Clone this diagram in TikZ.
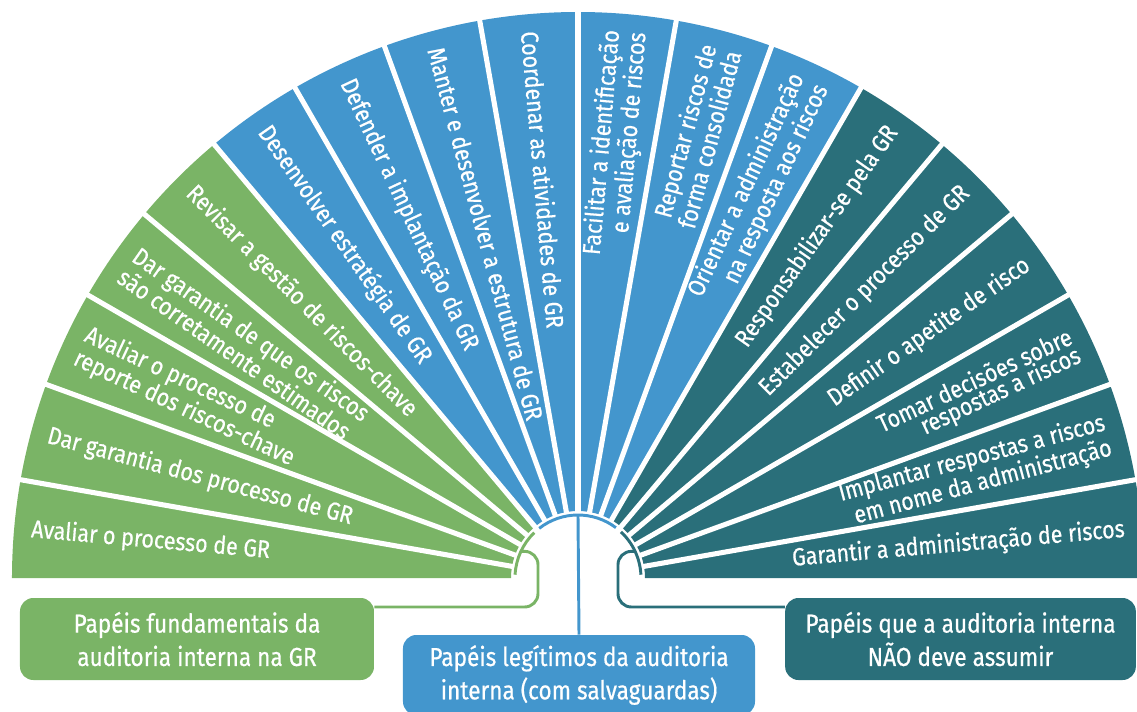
\documentclass[tikz,border=0pt]{standalone}
\usepackage{fontspec}
\setmainfont{Fira Sans}[FakeStretch=0.87, FakeBold=0.6]
\definecolor{cgreen}{RGB}{122,180,102}
\definecolor{cblue}{RGB}{67,150,205}
\definecolor{cteal}{RGB}{42,111,122}
\begin{document}
\begin{tikzpicture}[x=0.75pt,y=0.75pt,
  wtext/.style={text=white, font=\fontsize{18.5}{15}\selectfont, inner sep=0pt},
  lbox/.style={rounded corners=10pt, text=white, font=\fontsize{19.5}{25}\selectfont, align=center, inner sep=0pt},
  conn/.style={line width=2.2pt},
  gapline/.style={white, line width=3.8pt}]
\useasboundingbox (-578,-133) rectangle (559,578);
% wedges
\foreach \a in {0,10,...,50}
  \fill[cteal] (\a:67) -- (\a:566) arc[start angle=\a, delta angle=10, radius=566] -- ({\a+10}:67) arc[start angle=\a+10, delta angle=-10, radius=67] -- cycle;
\foreach \a in {60,70,...,120}
  \fill[cblue] (\a:67) -- (\a:566) arc[start angle=\a, delta angle=10, radius=566] -- ({\a+10}:67) arc[start angle=\a+10, delta angle=-10, radius=67] -- cycle;
\foreach \a in {130,140,...,170}
  \fill[cgreen] (\a:67) -- (\a:566) arc[start angle=\a, delta angle=10, radius=566] -- ({\a+10}:67) arc[start angle=\a+10, delta angle=-10, radius=67] -- cycle;
\foreach \a in {10,20,...,170}
  \draw[gapline] (\a:55) -- (\a:580);
% wedge texts, left side
\node[wtext, anchor=west, align=left, rotate=-5] (t1) at (175:549) {Avaliar o processo de GR};
\node[wtext, anchor=west, align=left, rotate=-15] (t2) at (165:549) {Dar garantia dos processo de GR};
\node[wtext, anchor=west, align=left, rotate=-25] (t3) at (155:549) {Avaliar o processo de\\reporte dos riscos-chave};
\node[wtext, anchor=west, align=left, rotate=-35] (t4) at (145:549) {Dar garantia de que os riscos\\são corretamente estimados};
\node[wtext, anchor=west, align=left, rotate=-45] (t5) at (135:549) {Revisar a gestão de riscos-chave};
\node[wtext, anchor=west, align=left, rotate=-55] (t6) at (125:549) {Desenvolver estratégia de GR};
\node[wtext, anchor=west, align=left, rotate=-65] (t7) at (115:549) {Defender a implantação da GR};
\node[wtext, anchor=west, align=left, rotate=-75] (t8) at (105:549) {Manter e desenvolver a estrutura de GR};
\node[wtext, anchor=west, align=left, rotate=-85] (t9) at (95:549) {Coordenar as atividades de GR};
% right side
\node[wtext, anchor=east, align=right, rotate=85] (t10) at (85:549) {Facilitar a identificação\\e avaliação de riscos};
\node[wtext, anchor=east, align=right, rotate=75] (t11) at (75:549) {Reportar riscos de\\forma consolidada};
\node[wtext, anchor=east, align=right, rotate=65] (t12) at (65:549) {Orientar a administração\\na resposta aos riscos};
\node[wtext, anchor=east, align=right, rotate=55] (t13) at (55:549) {Responsabilizar-se pela GR};
\node[wtext, anchor=east, align=right, rotate=45] (t14) at (45:549) {Estabelecer o processo de GR};
\node[wtext, anchor=east, align=right, rotate=35] (t15) at (35:549) {Definir o apetite de risco};
\node[wtext, anchor=east, align=right, rotate=25] (t16) at (25:549) {Tomar decisões sobre\\respostas a riscos};
\node[wtext, anchor=east, align=right, rotate=15] (t17) at (15:549) {Implantar respostas a riscos\\em nome da administração};
\node[wtext, anchor=east, align=right, rotate=5] (t18) at (5:549) {Garantir a administração de riscos};
% boxes
\node[lbox, fill=cgreen, minimum width=265.5pt, minimum height=61.5pt] (gbox) at (-381,-61) {Papéis fundamentais da\\auditoria interna na GR};
\node[lbox, fill=cblue, minimum width=264pt, minimum height=60pt] (bbox) at (1,-97) {Papéis legítimos da auditoria\\interna (com salvaguardas)};
\node[lbox, fill=cteal, minimum width=263pt, minimum height=61.5pt] (tbox) at (382.5,-61) {Papéis que a auditoria interna\\NÃO deve assumir};
% connectors
\draw[conn, cblue] (53:63) arc[start angle=53, end angle=128, radius=63];
\draw[conn, cgreen] (134:63) arc[start angle=134, end angle=177, radius=63];
\draw[conn, cteal] (47:63) arc[start angle=47, end angle=3, radius=63];
\coordinate (gs) at (155:63);
\coordinate (bs) at (90:63);
\coordinate (ts) at (25:63);
\draw[conn, cgreen, rounded corners=10pt] (gs) -| (-40,-29) -- (gbox.east |- 0,-29);
\draw[conn, cteal, rounded corners=10pt] (ts) -| (40,-29) -- (tbox.west |- 0,-29);
\draw[conn, cblue] (bs) -- (bbox.north);
\end{tikzpicture}
\end{document}
